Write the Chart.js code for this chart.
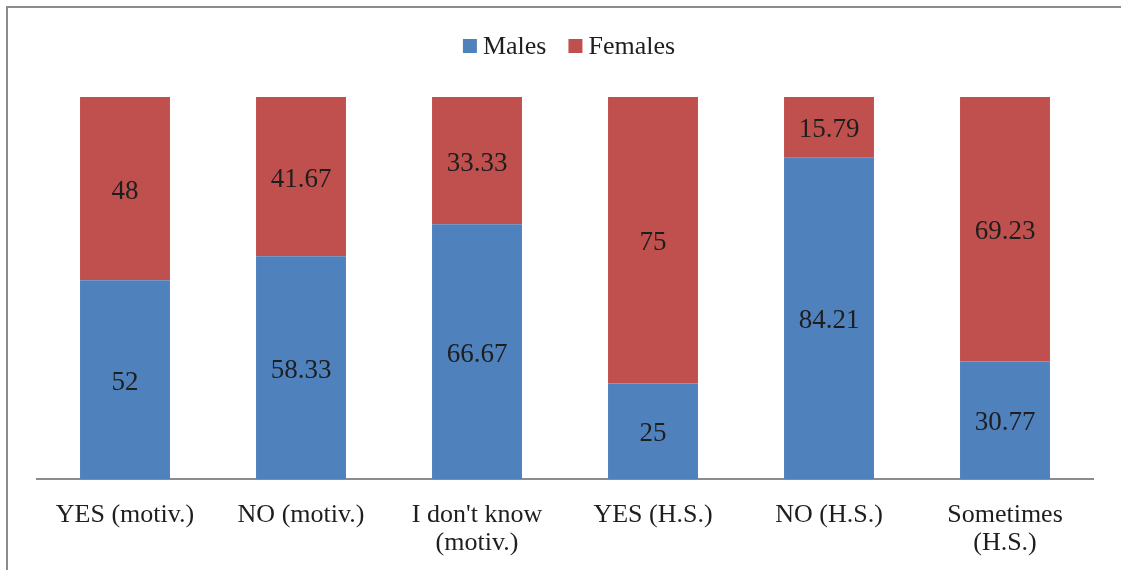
<!DOCTYPE html>
<html>
<head>
<meta charset="utf-8">
<script src="https://cdn.jsdelivr.net/npm/chart.js@4.4.1/dist/chart.umd.min.js"></script>
<style>
  html, body { margin: 0; padding: 0; background: #fff; }
  #wrap { position: relative; width: 1121px; height: 570px; }
  #frame { position: absolute; left: 6px; top: 6px; width: 1200px; height: 600px;
           border-left: 2px solid #8c8c8c; border-top: 2px solid #8c8c8c; box-sizing: border-box; }
  canvas { position: absolute; left: 0; top: 0; }
</style>
</head>
<body>
<div id="wrap">
  <div id="frame"></div>
  <canvas id="c" width="1121" height="570"></canvas>
</div>
<script>
const categories = [
  'YES (motiv.)',
  'NO (motiv.)',
  ["I don't know", '(motiv.)'],
  'YES (H.S.)',
  'NO (H.S.)',
  ['Sometimes', '(H.S.)']
];
const males = [52, 58.33, 66.67, 25, 84.21, 30.77];
const females = [48, 41.67, 33.33, 75, 15.79, 69.23];

const FONT = "'Liberation Serif', 'Times New Roman', serif";
const TEXT_COLOR = '#1e1e1e';

// Writes each segment's value in the middle of its bar piece
const segmentLabels = {
  id: 'segmentLabels',
  afterDatasetsDraw(chart) {
    const ctx = chart.ctx;
    ctx.save();
    ctx.font = '27px ' + FONT;
    ctx.fillStyle = TEXT_COLOR;
    ctx.textAlign = 'center';
    ctx.textBaseline = 'middle';
    chart.data.datasets.forEach((ds, i) => {
      const meta = chart.getDatasetMeta(i);
      meta.data.forEach((bar, j) => {
        const y = (bar.y + bar.base) / 2;
        ctx.fillText(String(ds.data[j]), bar.x, y + 3);
      });
    });
    ctx.restore();
  }
};

// Compact legend above the plot: small square swatch tight against its label
const topLegend = {
  id: 'topLegend',
  afterDraw(chart) {
    const ctx = chart.ctx;
    const box = 14, gap = 6, itemGap = 22, cy = 46;
    ctx.save();
    ctx.font = '26px ' + FONT;
    ctx.textBaseline = 'middle';
    ctx.textAlign = 'left';
    const items = chart.data.datasets.map(ds => ({
      text: ds.label, color: ds.backgroundColor, w: ctx.measureText(ds.label).width
    }));
    const total = items.reduce((s, it) => s + box + gap + it.w, 0) + itemGap * (items.length - 1);
    let x = (chart.chartArea.left + chart.chartArea.right) / 2 + 4 - total / 2;
    items.forEach(it => {
      ctx.fillStyle = it.color;
      ctx.fillRect(x, cy - box / 2, box, box);
      x += box + gap;
      ctx.fillStyle = TEXT_COLOR;
      ctx.fillText(it.text, x, cy + 1);
      x += it.w + itemGap;
    });
    ctx.restore();
  }
};

new Chart(document.getElementById('c'), {
  type: 'bar',
  data: {
    labels: categories,
    datasets: [
      { label: 'Males', data: males, backgroundColor: '#4F81BD' },
      { label: 'Females', data: females, backgroundColor: '#C0504D' }
    ]
  },
  options: {
    responsive: false,
    animation: false,
    devicePixelRatio: 1,
    layout: { padding: { left: 37, right: 28, top: 97, bottom: 0 } },
    datasets: { bar: { categoryPercentage: 1, barPercentage: 0.511 } },
    plugins: {
      legend: { display: false },
      tooltip: { enabled: false }
    },
    scales: {
      x: {
        stacked: true,
        grid: { display: false, drawTicks: false },
        border: { display: true, color: '#8c8c8c', width: 2 },
        afterFit(scale) { scale.height = 91; },
        ticks: {
          font: { family: FONT, size: 26, lineHeight: 1.08 },
          color: TEXT_COLOR,
          padding: 22,
          maxRotation: 0,
          autoSkip: false
        }
      },
      y: {
        stacked: true,
        display: false,
        min: 0,
        max: 100
      }
    }
  },
  plugins: [segmentLabels, topLegend]
});
</script>
</body>
</html>
